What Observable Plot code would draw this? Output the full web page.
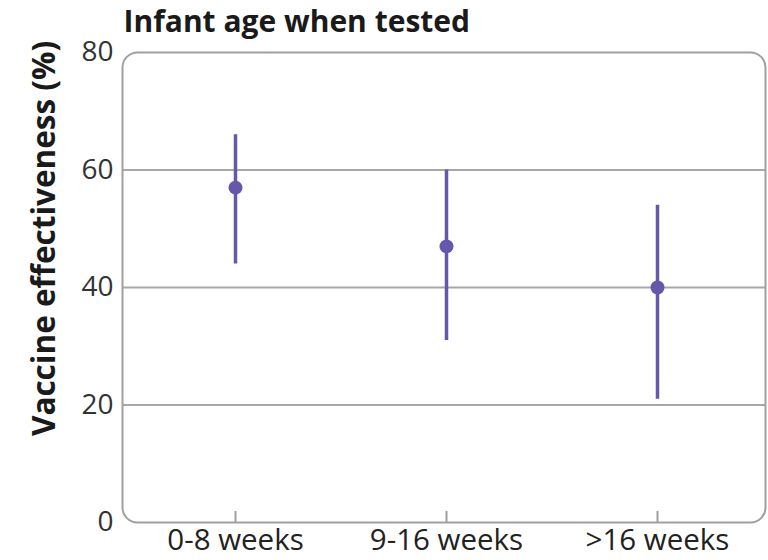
<!DOCTYPE html>
<html>
<head>
<meta charset="utf-8">
<script src="https://cdn.jsdelivr.net/npm/d3@7"></script>
<script src="https://cdn.jsdelivr.net/npm/@observablehq/plot@0.6"></script>
<style>
  html, body { margin: 0; padding: 0; background: #fff; }
</style>
</head>
<body>
<div id="chart"></div>
<script>
const categories = ["0-8 weeks", "9-16 weeks", ">16 weeks"];
const estimates = [57, 47, 40];
const lower = [44, 31, 21];
const upper = [66, 60, 54];
const yTicks = [0, 20, 40, 60, 80];
const gridValues = [20, 40, 60];
const title = "Infant age when tested";
const yLabel = "Vaccine effectiveness (%)";

const data = categories.map((c, i) => ({age: c, est: estimates[i], lo: lower[i], hi: upper[i]}));
const purple = "#6657ab";

const chart = Plot.plot({
  width: 768,
  height: 560,
  marginLeft: 122,
  marginRight: 3,
  marginTop: 52,
  marginBottom: 38,
  style: {fontFamily: "'Open Sans', sans-serif", color: "#2a2a2a", background: "#fff"},
  x: {type: "point", domain: categories, padding: 0, insetLeft: 113, insetRight: 108},
  y: {domain: [0, 80]},
  marks: [
    Plot.gridY(gridValues, {stroke: "#a8a8a8", strokeOpacity: 1, strokeWidth: 2}),
    Plot.frame({stroke: "#a0a0a0", strokeWidth: 2, rx: 15}),
    Plot.axisY({ticks: yTicks, tickSize: 0, tickPadding: 9, fontSize: 28, label: null, fill: "#333"}),
    Plot.axisX({tickSize: -11, tickPadding: 18, fontSize: 29.5, label: null, stroke: "#a0a0a0", strokeWidth: 2, fill: "#222"}),
    Plot.ruleX(data, {x: "age", y1: "lo", y2: "hi", stroke: purple, strokeWidth: 3.5}),
    Plot.dot(data, {x: "age", y: "est", r: 7, fill: purple}),
    Plot.text([title], {frameAnchor: "top-left", dx: 1, dy: -30, textAnchor: "start", lineAnchor: "middle", fontWeight: "bold", fontSize: 30, fill: "#1a1a1a"}),
    Plot.text([yLabel], {frameAnchor: "left", rotate: -90, dx: -78, dy: -49, textAnchor: "middle", lineAnchor: "middle", fontWeight: "bold", fontSize: 31.5, fill: "#1a1a1a"})
  ]
});
document.getElementById("chart").appendChild(chart);
</script>
</body>
</html>
